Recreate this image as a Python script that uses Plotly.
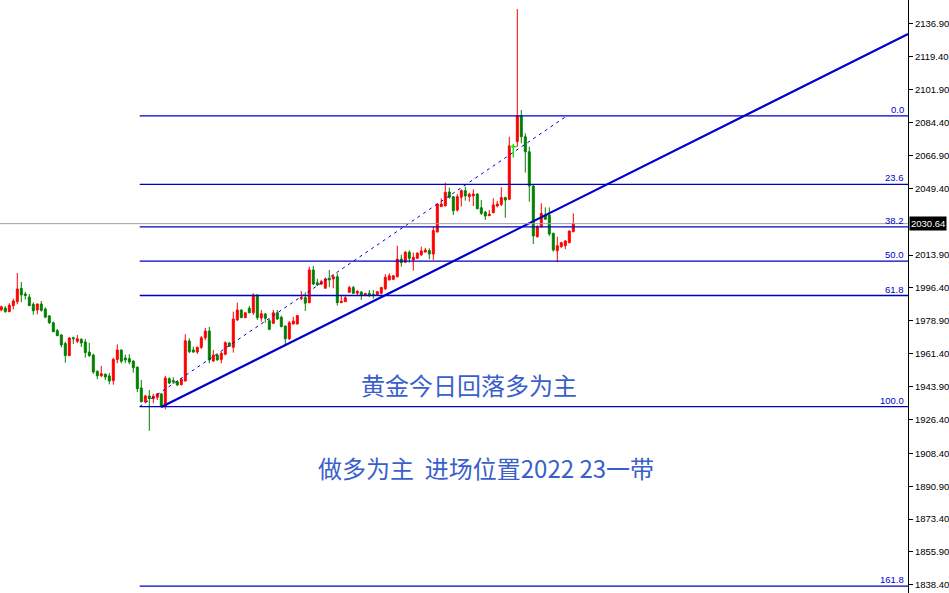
import plotly.graph_objects as go

# ---- candle data (index, OHLC) ----
opens = [1984.7,1985.7,1983.8,1987.0,1989.1,1996.2,1993.2,1991.6,1987.7,1984.7,
         1987.9,1985.2,1981.5,1977.9,1973.7,1971.4,1966.8,1960.4,1969.9,1968.0,
         1969.1,1967.7,1962.3,1960.7,1952.1,1949.7,1950.6,1949.6,1947.1,1958.4,
         1963.4,1959.1,1958.8,1957.5,1954.3,1943.2,1935.9,1938.9,1937.5,1938.2,
         1940.0,1933.2,1948.1,1947.1,1946.5,1944.9,1946.9,1968.2,1963.4,1962.3,
         1964.8,1969.9,1973.5,1957.5,1960.7,1958.4,1961.1,1967.1,1964.8,1979.4,
         1984.7,1980.6,1985.6,1983.2,1992.7,1980.4,1982.6,1979.0,1977.6,1983.2,
         1980.8,1976.2,1969.4,1977.2,1977.2,1990.7,1991.2,1988.6,2006.0,1999.2,
         1998.5,1996.3,2001.6,2001.2,2002.4,1988.6,1989.1,1994.1,1996.6,1993.6,
         1994.3,1992.5,1993.6,1993.0,1992.7,1993.6,1996.0,2000.7,2001.0,2002.4,
         2011.8,2010.1,2015.4,2011.3,2012.2,2014.1,2015.5,2016.3,2014.5,2026.2,
         2039.7,2040.2,2047.5,2045.0,2037.9,2044.7,2048.2,2045.0,2045.4,2046.4,
         2039.1,2036.8,2034.9,2036.5,2040.0,2040.9,2044.5,2043.6,2071.9,2074.3,
         2088.1,2076.9,2068.9,2050.7,2023.7,2029.0,2035.2,2035.2,2025.5,2016.2,
         2018.4,2018.9,2020.5,2026.4]
highs = [1987.0,1986.8,1988.3,1990.7,2004.4,1999.6,1994.4,1993.2,1988.8,1988.0,
         1989.5,1986.1,1982.0,1978.5,1974.6,1971.8,1967.8,1970.3,1970.5,1971.4,
         1969.6,1969.3,1967.1,1961.4,1952.4,1954.9,1950.6,1951.2,1959.3,1966.4,
         1963.6,1960.9,1961.1,1957.9,1954.4,1947.4,1939.6,1942.1,1940.0,1940.4,
         1940.4,1949.6,1948.9,1948.9,1947.4,1948.5,1971.8,1969.6,1965.2,1965.2,
         1970.8,1975.1,1975.6,1963.4,1961.1,1962.5,1968.0,1967.7,1983.8,1988.6,
         1984.9,1983.4,1986.8,1993.6,1992.9,1984.7,1982.9,1979.9,1984.7,1984.7,
         1981.7,1976.3,1978.8,1981.1,1982.0,1994.8,1994.1,2007.7,2008.1,2001.3,
         2000.7,2002.1,2006.0,2003.7,2004.2,1992.7,1992.1,1997.5,1997.5,1995.2,
         1994.6,1993.9,1995.3,1995.3,1994.8,1997.1,2003.7,2004.2,2003.3,2018.9,
         2014.1,2016.1,2016.5,2015.2,2015.4,2018.4,2017.8,2017.5,2029.0,2041.5,
         2044.1,2052.4,2049.8,2045.1,2046.4,2048.9,2050.3,2047.1,2048.9,2046.8,
         2043.2,2037.4,2037.9,2044.1,2042.7,2050.0,2045.0,2076.9,2072.9,2144.9,
         2091.1,2078.7,2071.6,2051.2,2029.9,2041.5,2039.3,2039.3,2025.8,2023.7,
         2021.0,2021.9,2026.9,2036.1]
lows = [1984.0,1983.2,1983.5,1985.0,1987.7,1988.8,1990.2,1986.8,1982.2,1982.4,
        1983.8,1980.3,1977.2,1973.0,1970.8,1964.8,1956.6,1960.2,1966.6,1967.1,
        1965.0,1959.3,1959.7,1950.6,1947.8,1948.9,1947.4,1945.1,1944.9,1956.3,
        1956.3,1956.3,1955.8,1951.3,1941.0,1935.4,1935.0,1920.4,1935.0,1936.8,
        1932.9,1931.8,1945.3,1945.3,1944.2,1944.6,1946.6,1961.7,1961.9,1961.3,
        1963.9,1968.7,1956.3,1957.0,1957.7,1956.3,1960.6,1965.2,1962.0,1978.8,
        1980.4,1980.4,1982.9,1982.0,1979.4,1978.5,1977.9,1973.9,1977.2,1979.4,
        1975.5,1966.4,1968.7,1977.1,1977.0,1990.0,1984.2,1988.3,1998.0,1997.5,
        1998.0,1996.0,1996.8,1996.2,1987.0,1988.3,1989.0,1993.9,1993.2,1992.7,
        1990.0,1992.3,1991.5,1990.7,1992.3,1993.0,1995.3,2000.5,2000.5,2002.1,
        2007.7,2009.6,2009.9,2005.6,2011.8,2013.4,2015.2,2011.7,2011.3,2026.0,
        2039.6,2039.7,2043.9,2035.2,2037.0,2039.7,2042.9,2042.3,2040.0,2038.3,
        2035.2,2032.6,2034.7,2036.1,2039.3,2040.0,2033.8,2043.4,2065.9,2071.6,
        2073.4,2057.8,2042.3,2019.8,2023.2,2028.7,2032.6,2024.1,2015.7,2010.1,
        2017.8,2017.1,2020.2,2026.0]
closes = [1986.4,1983.8,1987.2,1989.5,1995.9,1992.7,1992.3,1987.0,1984.3,1987.9,
          1984.5,1980.9,1977.9,1973.1,1971.0,1966.1,1960.4,1969.8,1969.4,1969.4,
          1967.1,1962.0,1960.4,1951.7,1949.7,1950.8,1949.0,1946.9,1958.4,1963.4,
          1957.4,1958.1,1957.0,1954.0,1942.8,1935.9,1938.9,1937.5,1938.8,1940.0,
          1933.2,1948.5,1945.8,1946.4,1944.8,1947.8,1968.3,1962.5,1962.3,1964.8,
          1969.9,1973.5,1958.1,1960.7,1958.1,1961.6,1967.3,1965.4,1979.9,1984.7,
          1980.6,1983.2,1983.2,1992.7,1980.6,1982.7,1980.3,1974.4,1983.2,1979.9,
          1975.8,1969.4,1977.9,1978.8,1981.7,1991.2,1988.3,2006.0,1998.5,1998.0,
          1999.8,2001.2,2000.7,2002.4,1988.6,1989.3,1991.2,1996.6,1993.6,1994.6,
          1992.7,1993.4,1992.7,1992.5,1994.4,1996.6,2002.1,2002.9,2002.9,2011.8,
          2009.9,2015.4,2012.2,2012.7,2014.9,2016.1,2016.6,2014.5,2026.9,2041.1,
          2041.1,2047.3,2044.7,2037.5,2045.0,2048.2,2045.4,2046.3,2046.4,2038.6,
          2036.1,2034.7,2035.6,2040.6,2041.1,2044.5,2043.2,2072.1,2071.6,2088.1,
          2076.9,2068.9,2050.7,2024.1,2029.0,2036.1,2033.0,2025.1,2016.6,2018.9,
          2020.5,2021.4,2026.7,2030.64]
candle_idx = list(range(len(opens)))
highlight_idx = 128          # lime doji

current_price = 2030.64

# ---- Fibonacci retracement ----
fib_levels = [0.0, 23.6, 38.2, 50.0, 61.8, 100.0, 161.8]
fib_labels = ["0.0", "23.6", "38.2", "50.0", "61.8", "100.0", "161.8"]
fib_high = 2088.0
fib_low = 1933.3
fib_anchor_x = [34.6, 141.4]          # low anchor -> high anchor (candle index)
fib_anchor_y = [fib_low, fib_high]

# ---- trend line (ray) ----
trend_x = [40, 226.7]
trend_y = [1933.0, 2131.6]

# ---- axis ----
y_ticks = [2136.9, 2119.4, 2101.9, 2084.4, 2066.9, 2049.4, 2013.9, 1996.4, 1978.9,
           1961.4, 1943.9, 1926.4, 1908.4, 1890.9, 1873.4, 1855.9, 1838.4]
y_tick_text = ["%.2f" % v for v in y_ticks]
y_range = [1834.06, 2149.67]
x_range = [-0.325, 226.675]

texts = ["黄金今日回落多为主", "做多为主\u00a0\u00a0进场位置2022 23一带"]

fig = go.Figure()

fig.add_trace(go.Candlestick(
    x=candle_idx, open=opens, high=highs, low=lows, close=closes,
    increasing=dict(line=dict(color="#ff0000", width=1), fillcolor="#ff0000"),
    decreasing=dict(line=dict(color="#008000", width=1), fillcolor="#008000"),
    whiskerwidth=0, showlegend=False, hoverinfo="skip"))

# lime doji
fig.add_trace(go.Scatter(
    x=[highlight_idx, highlight_idx], y=[lows[highlight_idx], highs[highlight_idx]],
    mode="lines", line=dict(color="#00ff00", width=1), showlegend=False, hoverinfo="skip"))
fig.add_trace(go.Scatter(
    x=[highlight_idx], y=[closes[highlight_idx]], mode="markers",
    marker=dict(symbol="line-ew", size=5, line=dict(color="#00ff00", width=1.5)),
    showlegend=False, hoverinfo="skip"))

# fib dashed diagonal
fig.add_trace(go.Scatter(
    x=fib_anchor_x, y=fib_anchor_y, mode="lines",
    line=dict(color="#0000cd", width=1, dash="3px,4px"),
    showlegend=False, hoverinfo="skip"))

# trend line
fig.add_trace(go.Scatter(
    x=trend_x, y=trend_y, mode="lines",
    line=dict(color="#0000c8", width=2.2),
    showlegend=False, hoverinfo="skip"))

shapes = []
annotations = []
# current price line
shapes.append(dict(type="line", xref="paper", x0=0, x1=1, yref="y",
                   y0=current_price, y1=current_price,
                   line=dict(color="#a0a0a0", width=1), layer="above"))
for lvl, lab in zip(fib_levels, fib_labels):
    p = fib_high - (fib_high - fib_low) * lvl / 100.0
    shapes.append(dict(type="line", xref="x", x0=fib_anchor_x[0], x1=x_range[1],
                       yref="y", y0=p, y1=p,
                       line=dict(color="#0000c0", width=1.3), layer="above"))
    annotations.append(dict(xref="paper", x=1, xanchor="right", xshift=-2,
                            yref="y", y=p, yanchor="bottom", yshift=-1,
                            text=lab, showarrow=False,
                            font=dict(family="Liberation Sans", size=9.5, color="#0000cd")))

annotations.append(dict(xref="paper", x=1, xanchor="left", xshift=1,
                        yref="y", y=current_price, yanchor="middle",
                        text="%.2f" % current_price, showarrow=False,
                        bgcolor="#000000", borderpad=1,
                        font=dict(family="Liberation Sans", size=9.5, color="#ffffff")))

annotations.append(dict(xref="paper", x=469 / 908, yref="paper", y=1 - 384 / 593,
                        text=texts[0], showarrow=False, xanchor="center", yanchor="middle",
                        font=dict(family="Noto Sans CJK SC", size=24, color="#3a5fcd")))
annotations.append(dict(xref="paper", x=486 / 908, yref="paper", y=1 - 467 / 593,
                        text=texts[1], showarrow=False, xanchor="center", yanchor="middle",
                        font=dict(family="Noto Sans CJK SC", size=24, color="#3a5fcd")))

fig.update_layout(
    width=949, height=593,
    margin=dict(l=0, r=41, t=0, b=0),
    paper_bgcolor="#ffffff", plot_bgcolor="#ffffff",
    shapes=shapes, annotations=annotations,
    xaxis=dict(range=x_range, visible=False, rangeslider=dict(visible=False),
               showgrid=False, zeroline=False),
    yaxis=dict(side="right", range=y_range, tickmode="array",
               tickvals=y_ticks, ticktext=y_tick_text,
               ticks="outside", ticklen=4, tickcolor="#000000",
               showline=True, linecolor="#000000", linewidth=1,
               showgrid=False, zeroline=False,
               tickfont=dict(family="Liberation Sans", size=9.5, color="#000000")),
    showlegend=False,
)

fig.write_html("out.html", config={"displayModeBar": False},
               post_script="document.body.style.margin='0';document.body.style.overflow='hidden';")
